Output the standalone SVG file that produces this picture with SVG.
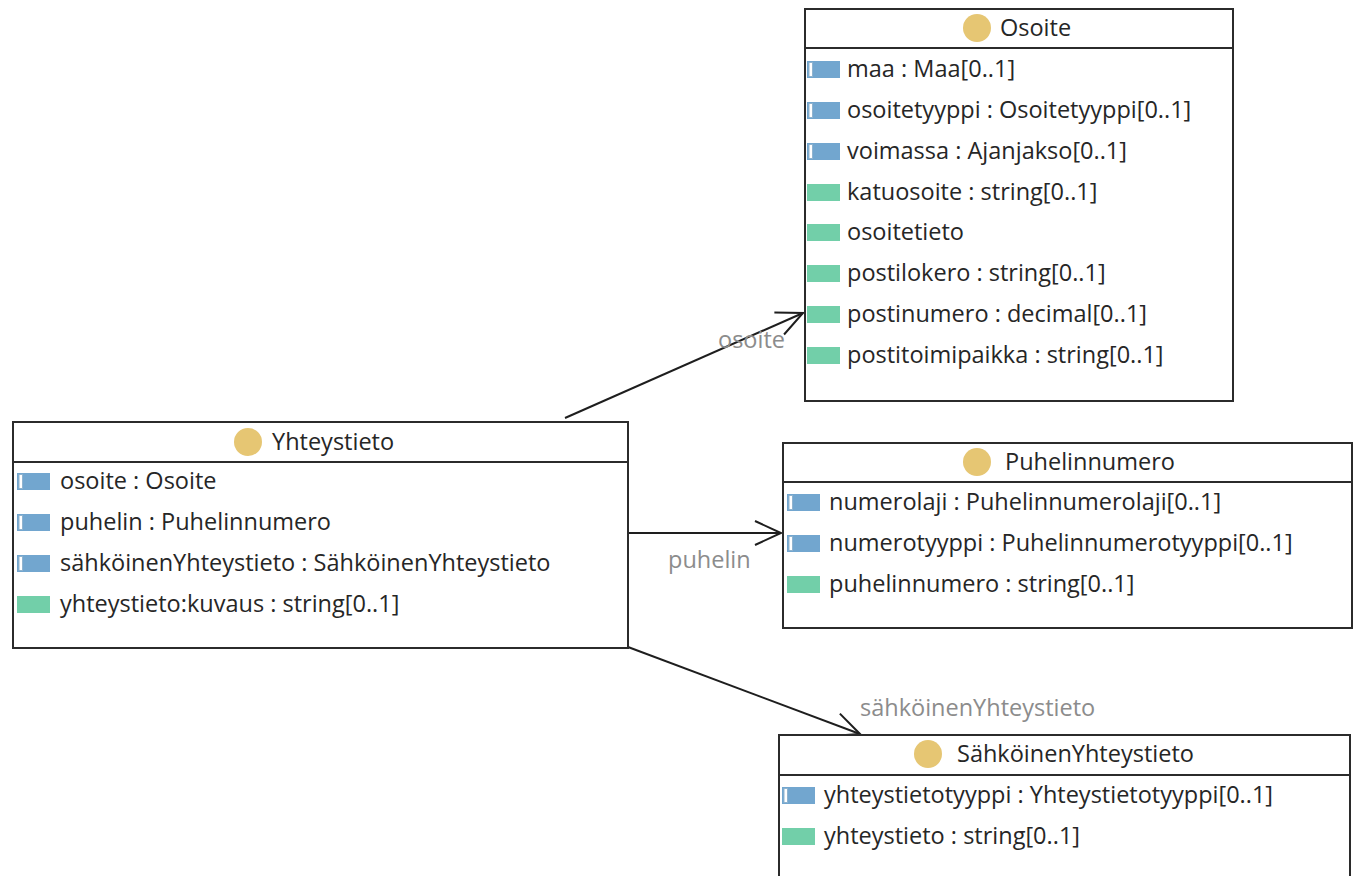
<svg xmlns="http://www.w3.org/2000/svg" width="1354" height="876" viewBox="0 0 1354 876">
  <style>
    .box { fill: #ffffff; stroke: #2b2b2b; stroke-width: 2; }
    .sep { stroke: #2b2b2b; stroke-width: 2; }
    .title, .attr { font-family: "Open Sans", "Noto Sans", sans-serif; font-size: 23.5px; fill: #262626; }
    .lbl { font-family: "Open Sans", "Noto Sans", sans-serif; font-size: 23.5px; fill: #8c8c8c; }
    .cls { fill: #e6c673; }
    .ref { fill: #72a6cf; }
    .refbar { fill: #ffffff; stroke: #8fb3cf; stroke-width: 1; }
    .val { fill: #72cfa9; }
    .edge { fill: none; stroke: #1e1e1e; stroke-width: 2; }
  </style>
  <defs>
    <!-- open arrowhead used on association ends -->
    <marker id="open" markerUnits="userSpaceOnUse" markerWidth="34" markerHeight="34" refX="30" refY="15" orient="auto">
      <path d="M4,3 L30,15 L4,27" fill="none" stroke="#1e1e1e" stroke-width="2"/>
    </marker>
    <!-- reference attribute icon -->
    <g id="iref">
      <rect class="ref" x="0" y="-8" width="33" height="17"/>
      <rect class="refbar" x="2" y="-6.5" width="3.5" height="14"/>
    </g>
    <!-- value attribute icon -->
    <g id="ival">
      <rect class="val" x="0" y="-8" width="33" height="17"/>
    </g>
  </defs>

  <rect width="1354" height="876" fill="#ffffff"/>

  <!-- associations -->
  <g id="connectors">
    <path class="edge" d="M565,418 L803,313" marker-end="url(#open)"/>
    <text class="lbl" x="718" y="348">osoite</text>
    <path class="edge" d="M628,533 L781,533" marker-end="url(#open)"/>
    <text class="lbl" x="668" y="568">puhelin</text>
    <path class="edge" d="M628,647 L860,734" marker-end="url(#open)"/>
    <text class="lbl" x="860" y="716">sähköinenYhteystieto</text>
  </g>

  <!-- class Yhteystieto -->
  <g id="yhteystieto">
    <rect class="box" x="13" y="422" width="615" height="226"/>
    <line class="sep" x1="13" y1="462" x2="628" y2="462"/>
    <circle class="cls" cx="248" cy="442" r="14"/>
    <text class="title" x="272" y="450">Yhteystieto</text>
    <use href="#iref" x="17" y="481"/>
    <text class="attr" x="60" y="489">osoite : Osoite</text>
    <use href="#iref" x="17" y="522"/>
    <text class="attr" x="60" y="530">puhelin : Puhelinnumero</text>
    <use href="#iref" x="17" y="563"/>
    <text class="attr" x="60" y="571">sähköinenYhteystieto : SähköinenYhteystieto</text>
    <use href="#ival" x="17" y="604"/>
    <text class="attr" x="60" y="612">yhteystieto:kuvaus : string[0..1]</text>
  </g>

  <!-- class Osoite -->
  <g id="osoite">
    <rect class="box" x="805" y="9" width="428" height="392"/>
    <line class="sep" x1="805" y1="48" x2="1233" y2="48"/>
    <circle class="cls" cx="977" cy="28" r="14"/>
    <text class="title" x="1000" y="36">Osoite</text>
    <use href="#iref" x="807" y="69"/>
    <text class="attr" x="847" y="77">maa : Maa[0..1]</text>
    <use href="#iref" x="807" y="110"/>
    <text class="attr" x="847" y="118">osoitetyyppi : Osoitetyyppi[0..1]</text>
    <use href="#iref" x="807" y="151"/>
    <text class="attr" x="847" y="159">voimassa : Ajanjakso[0..1]</text>
    <use href="#ival" x="807" y="192"/>
    <text class="attr" x="847" y="200">katuosoite : string[0..1]</text>
    <use href="#ival" x="807" y="232"/>
    <text class="attr" x="847" y="240">osoitetieto</text>
    <use href="#ival" x="807" y="273"/>
    <text class="attr" x="847" y="281">postilokero : string[0..1]</text>
    <use href="#ival" x="807" y="314"/>
    <text class="attr" x="847" y="322">postinumero : decimal[0..1]</text>
    <use href="#ival" x="807" y="355"/>
    <text class="attr" x="847" y="363">postitoimipaikka : string[0..1]</text>
  </g>

  <!-- class Puhelinnumero -->
  <g id="puhelinnumero">
    <rect class="box" x="783" y="443" width="569" height="185"/>
    <line class="sep" x1="783" y1="482" x2="1352" y2="482"/>
    <circle class="cls" cx="977" cy="462" r="14"/>
    <text class="title" x="1005" y="470">Puhelinnumero</text>
    <use href="#iref" x="787" y="502"/>
    <text class="attr" x="829" y="510">numerolaji : Puhelinnumerolaji[0..1]</text>
    <use href="#iref" x="787" y="543"/>
    <text class="attr" x="829" y="551">numerotyyppi : Puhelinnumerotyyppi[0..1]</text>
    <use href="#ival" x="787" y="584"/>
    <text class="attr" x="829" y="592">puhelinnumero : string[0..1]</text>
  </g>

  <!-- class SähköinenYhteystieto -->
  <g id="sahkoinenyhteystieto">
    <rect class="box" x="779" y="735" width="571" height="150"/>
    <line class="sep" x1="779" y1="775" x2="1350" y2="775"/>
    <circle class="cls" cx="928" cy="754" r="14"/>
    <text class="title" x="957" y="762">SähköinenYhteystieto</text>
    <use href="#iref" x="782" y="795"/>
    <text class="attr" x="824" y="803">yhteystietotyyppi : Yhteystietotyyppi[0..1]</text>
    <use href="#ival" x="782" y="836"/>
    <text class="attr" x="824" y="844">yhteystieto : string[0..1]</text>
  </g>
</svg>
